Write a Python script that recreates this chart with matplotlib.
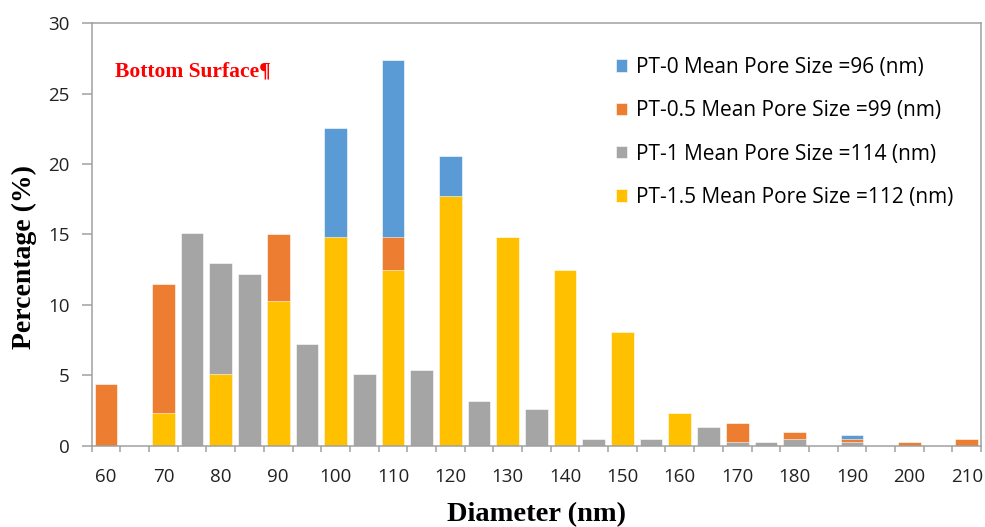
import numpy as np
import matplotlib.pyplot as plt
from matplotlib.patches import Patch

# pore size categories (nm), 60..210 in steps of 5
diam = list(range(60, 215, 5))

# percentage per category (0 = no visible bar)
pt0 = [0, 0, 0, 0, 0, 0, 0, 0, 22.55, 0, 27.4, 0, 20.55, 0, 0, 0,
       0, 0, 0, 0, 0, 0, 0, 0, 0, 0, 0.75, 0, 0, 0, 0]
pt05 = [4.4, 0, 11.5, 0, 0, 0, 15.0, 0, 0, 0, 14.8, 0, 0, 0, 0, 0,
        0, 0, 0, 0, 0, 0, 1.6, 0, 1.0, 0, 0.5, 0, 0.28, 0, 0.5]
pt1 = [0, 0, 0, 15.1, 13.0, 12.2, 0, 7.2, 0, 5.1, 0, 5.35, 0, 3.2, 0, 2.6,
       0, 0.5, 0, 0.5, 0, 1.35, 0.28, 0.28, 0.5, 0, 0.28, 0, 0, 0, 0]
pt15 = [0, 0, 2.3, 0, 5.1, 0, 10.3, 0, 14.8, 0, 12.5, 0, 17.7, 0, 14.8, 0,
        12.5, 0, 8.05, 0, 2.3, 0, 0, 0, 0, 0, 0, 0, 0, 0, 0]

labels = ["PT-0 Mean Pore Size =96 (nm)",
          "PT-0.5 Mean Pore Size =99 (nm)",
          "PT-1 Mean Pore Size =114 (nm)",
          "PT-1.5 Mean Pore Size =112 (nm)"]
colors = ["#5B9BD5", "#ED7D31", "#A5A5A5", "#FFC000"]

fig = plt.figure(figsize=(9.85, 5.27), dpi=100)
ax = fig.add_axes([0.0931, 0.1543, 0.9029, 0.8015])

x = np.arange(len(diam))
for vals, c in zip([pt0, pt05, pt1, pt15], colors):
    ax.bar(x, vals, width=0.79, color=c, edgecolor="white", linewidth=0.4)

ax.set_xlim(-0.5, len(diam) - 0.5)
ax.set_ylim(0, 30)

spine_c = "#A0A0A0"
for s in ax.spines.values():
    s.set_color(spine_c)
    s.set_linewidth(1.1)

tick_font = dict(family="Open Sans", size=13.5)
ax.set_yticks(range(0, 31, 5))
ax.set_yticklabels([str(v) for v in range(0, 31, 5)], **tick_font, color="#222222")
ax.tick_params(axis="y", length=7, width=1.1, color=spine_c, pad=9)

# boundary ticks, labels on every other category
ax.set_xticks(np.arange(-0.5, len(diam), 1))
ax.set_xticklabels([])
ax.tick_params(axis="x", which="major", length=4.5, width=1.1, color=spine_c)
ax.set_xticks(x[::2], minor=True)
ax.set_xticklabels([str(d) for d in diam[::2]], minor=True, **tick_font, color="#222222")
ax.tick_params(axis="x", which="minor", length=0, pad=16)

ax.set_xlabel("Diameter (nm)", family="Liberation Serif", weight="bold", size=20.5, labelpad=12)
ax.set_ylabel("Percentage (%)", family="Liberation Serif", weight="bold", size=20)
ax.yaxis.set_label_coords(-0.062, 0.447)

ax.text(0.026, 0.887, "Bottom Surface¶", transform=ax.transAxes, color="red",
        family="Liberation Serif", weight="bold", size=15.5, va="center")

handles = [Patch(facecolor=c, edgecolor="white", linewidth=0.4) for c in colors]
fig.legend(handles, labels, loc="upper left", bbox_to_anchor=(616 / 985, 1 - 57 / 527),
           frameon=False, borderpad=0, borderaxespad=0,
           prop=dict(family="Open Sans", size=15),
           handlelength=0.55, handleheight=0.55, handletextpad=0.4, labelspacing=1.07)

fig.savefig("out.png", dpi=100)
